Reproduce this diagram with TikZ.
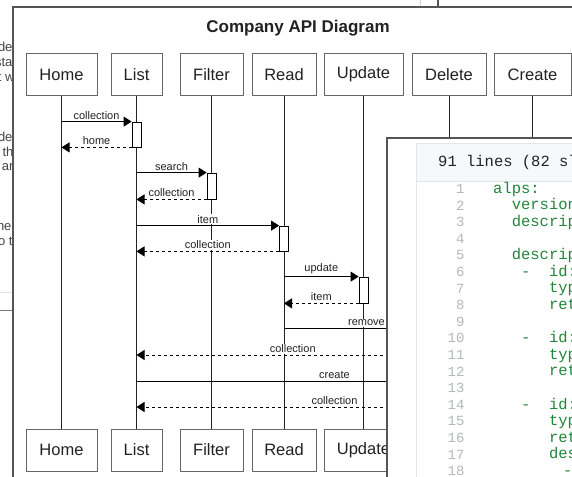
\documentclass[tikz,border=0pt]{standalone}
\usepackage{fontspec}
\setmainfont{Liberation Sans}
\newfontfamily\codefont{Liberation Mono}
\usetikzlibrary{arrows.meta}
\definecolor{frame}{HTML}{555555}
\definecolor{boxline}{HTML}{666666}
\definecolor{ink}{HTML}{222222}
\definecolor{bgtext}{HTML}{444444}
\definecolor{codegreen}{HTML}{22863A}
\definecolor{lnum}{HTML}{B5B7BA}
\definecolor{hdrfill}{HTML}{F6F8FA}
\definecolor{hdrline}{HTML}{E1E4E8}
\begin{document}
\begin{tikzpicture}[x=1pt,y=-1pt,
  actor/.style={draw=boxline,line width=0.8pt,fill=white,minimum height=42pt,inner sep=0pt,
    text=ink,font=\fontsize{16.5}{18}\selectfont},
  life/.style={draw=ink,line width=0.7pt},
  act/.style={draw=black,line width=0.8pt,fill=white,minimum width=9pt,inner sep=0pt},
  msg/.style={draw=black,line width=0.8pt,-{Triangle[length=8pt,width=10pt]}},
  ret/.style={msg,dash pattern=on 3pt off 3pt},
  lbl/.style={font=\fontsize{11}{12}\selectfont,text=ink,fill=white,inner sep=1pt,above=1pt},
  bgtxt/.style={font=\fontsize{13}{14}\selectfont,text=bgtext,anchor=east},
  code/.style={font=\codefont\fontsize{15.5}{17}\selectfont,text=codegreen,anchor=west,
    inner sep=0pt,text height=9pt,text depth=2.5pt},
  num/.style={font=\codefont\fontsize{14}{16}\selectfont,text=lnum,anchor=east,
    text height=9pt,text depth=2pt}]
\path[use as bounding box,clip] (0,0) rectangle (572,476);
\fill[white] (0,0) rectangle (572,476);
% background page behind window
\node[bgtxt] (b1) at (16,47) {ude};
\node[bgtxt] (b2) at (16,62) {sta};
\node[bgtxt] (b3) at (18,77) {it w};
\node[bgtxt] (b4) at (16,137) {ude};
\node[bgtxt] (b5) at (17,152) {e th};
\node[bgtxt] (b6) at (17,167) {ar};
\node[bgtxt] (b7) at (15,226) {he};
\node[bgtxt] (b8) at (16,241) {o t};
\draw[hdrline,line width=1pt] (0,292) -- (13,292);
\draw[frame!80,line width=1pt] (0,310) -- (13,310);
\draw[gray!35,line width=0.8pt] (420,0) -- (420,7);
\draw[frame,line width=1.5pt] (438,0) -- (438,7);
% main window
\draw[frame,line width=2pt,fill=white] (13,7) rectangle (600,500);
\node[font=\bfseries\fontsize{17}{20}\selectfont,text=ink] (title) at (298,28) {Company API Diagram};
% actors top
\node[actor,minimum width=71pt] (hT) at (61.5,74.5) {Home};
\node[actor,minimum width=51pt] (lT) at (136.5,74.5) {List};
\node[actor,minimum width=63pt] (fT) at (211.5,74.5) {Filter};
\node[actor,minimum width=64pt] (rT) at (284,74.5) {Read};
\node[actor,minimum width=79pt] (uT) at (363.5,74.5) {Update};
\node[actor,minimum width=74pt] (dT) at (449,74.5) {Delete};
\node[actor,minimum width=77pt] (cT) at (532.5,74.5) {Create};
% actors bottom (Delete and Create are hidden by the code window)
\node[actor,minimum width=71pt] (hB) at (61.5,450) {Home};
\node[actor,minimum width=51pt] (lB) at (136.5,450) {List};
\node[actor,minimum width=63pt] (fB) at (211.5,450) {Filter};
\node[actor,minimum width=64pt] (rB) at (284,450) {Read};
\node[actor,minimum width=79pt] (uB) at (363.5,450) {Update};
\coordinate (dB) at (449,429);
\coordinate (cB) at (532.5,429);
% lifelines
\foreach \a in {h,l,f,r,u}{\draw[life] (\a T.south) -- (\a B.north);}
\draw[life] (dT.south) -- (dB);
\draw[life] (cT.south) -- (cB);
% activations
\node[act,minimum height=25pt] (a1) at (136.5,134.5) {};
\node[act,minimum height=26pt] (a2) at (211.5,186) {};
\node[act,minimum height=25pt] (a3) at (284,238.5) {};
\node[act,minimum height=26pt] (a4) at (363.5,290) {};
% messages
\draw[msg] (hT.south |- a1.north west) -- node[lbl]{collection} (a1.north west);
\draw[ret] (a1.south west) -- node[lbl]{home} (hT.south |- a1.south west);
\draw[msg] (lT.south |- a2.north west) -- node[lbl]{search} (a2.north west);
\draw[ret] (a2.south west) -- node[lbl]{collection} (lT.south |- a2.south west);
\draw[msg] (lT.south |- a3.north west) -- node[lbl]{item} (a3.north west);
\draw[ret] (a3.south west) -- node[lbl]{collection} (lT.south |- a3.south west);
\draw[msg] (rT.south |- a4.north west) -- node[lbl]{update} (a4.north west);
\draw[ret] (a4.south west) -- node[lbl]{item} (rT.south |- a4.south west);
\coordinate (y9) at (0,328);
\coordinate (y10) at (0,355);
\coordinate (y11) at (0,381);
\coordinate (y12) at (0,407);
\draw[msg] (rT.south |- y9) -- node[lbl]{remove} (dT.south |- y9);
\draw[ret] (dT.south |- y10) -- node[lbl]{collection} (lT.south |- y10);
\draw[msg] (lT.south |- y11) -- node[lbl]{create} (cT.south |- y11);
\draw[ret] (cT.south |- y12) -- node[lbl]{collection} (lT.south |- y12);
% code window on top
\draw[frame,line width=2pt,fill=white] (387,138) rectangle (600,500);
\draw[hdrline,line width=0.8pt,fill=hdrfill] (416,143) rectangle (600,181);
\draw[hdrline,line width=0.8pt] (416,181) -- (416,500);
\node[font=\codefont\fontsize{15.5}{17}\selectfont,text=ink,anchor=west,inner sep=0pt] (hdr) at (438,162) {91 lines (82 sl};
\foreach \n in {1,...,18}{\node[num] (n\n) at (468,190+16.6*\n-16.6) {\n};}
\node[code] (c1) at (493,190) {alps:};
\node[code] (c2) at (511.6,206.6) {version};
\node[code] (c3) at (511.6,223.2) {descrip};
\node[code] (c5) at (511.6,256.4) {descrip};
\node[code] (c6) at (520.9,273) {-\hspace{9.3pt} id:};
\node[code] (c7) at (548.8,289.6) {typ};
\node[code] (c8) at (548.8,306.2) {ret};
\node[code] (c10) at (520.9,339.4) {-\hspace{9.3pt} id:};
\node[code] (c11) at (548.8,356) {typ};
\node[code] (c12) at (548.8,372.6) {ret};
\node[code] (c14) at (520.9,405.8) {-\hspace{9.3pt} id:};
\node[code] (c15) at (548.8,422.4) {typ};
\node[code] (c16) at (548.8,439) {ret};
\node[code] (c17) at (548.8,455.6) {des};
\node[code] (c18) at (563,472.2) {-};
\end{tikzpicture}
\end{document}
